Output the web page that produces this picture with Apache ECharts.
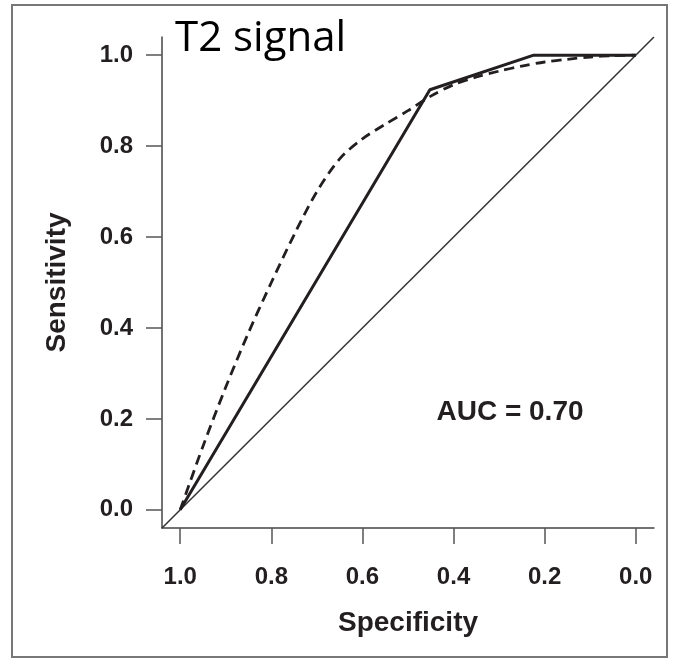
<!DOCTYPE html>
<html>
<head>
<meta charset="utf-8">
<title>T2 signal ROC</title>
<script src="https://cdn.jsdelivr.net/npm/echarts@6/dist/echarts.min.js"></script>
<style>
    html, body { margin: 0; padding: 0; background: #fff; }
    #main { width: 677px; height: 660px; }
</style>
</head>
<body>
<div id="main"></div>
<script>
    // tick positions shared by both axes
    var tickValues = [0, 0.2, 0.4, 0.6, 0.8, 1.0];

    // empirical ROC curve (solid)
    var empSpec = [1.0, 0.452, 0.224, 0.0];
    var empSens = [0.0, 0.924, 1.0, 1.0];

    // smoothed ROC curve (dashed)
    var fitSpec = [1.0, 0.95, 0.90, 0.85, 0.80, 0.75, 0.70, 0.65, 0.60, 0.55, 0.50, 0.45, 0.40, 0.35, 0.30, 0.25, 0.20, 0.15, 0.10, 0.05, 0.0];
    var fitSens = [0.0, 0.14, 0.27, 0.39, 0.50, 0.605, 0.70, 0.772, 0.816, 0.848, 0.878, 0.91, 0.935, 0.952, 0.965, 0.976, 0.985, 0.991, 0.996, 0.999, 1.0];

    // chance line, runs to the edges of the plot box
    var refSpec = [1.04, -0.04];
    var refSens = [-0.04, 1.04];

    var aucText = 'AUC = 0.70';
    var ink = '#231f20';

    function pairs(xs, ys) {
        var out = [];
        for (var i = 0; i < xs.length; i++) out.push([xs[i], ys[i]]);
        return out;
    }

    var chart = echarts.init(document.getElementById('main'));
    var option = {
        animation: false,
        grid: { left: 162, right: 23, top: 37, bottom: 132 },
        xAxis: {
            type: 'value',
            inverse: true,
            min: -0.04,
            max: 1.04,
            name: 'Specificity',
            nameLocation: 'middle',
            nameGap: 81,
            nameTextStyle: { fontFamily: 'Liberation Sans', fontWeight: 'bold', fontSize: 28, color: ink },
            axisLine: { show: true, onZero: false, lineStyle: { color: '#444', width: 1.5 } },
            axisTick: { show: true, customValues: tickValues, length: 16, lineStyle: { color: '#555', width: 1.5 } },
            axisLabel: {
                customValues: tickValues,
                margin: 37,
                fontFamily: 'Liberation Sans', fontWeight: 'bold', fontSize: 24, color: ink,
                formatter: function (v) { return v.toFixed(1); }
            },
            splitLine: { show: false }
        },
        yAxis: {
            type: 'value',
            min: -0.04,
            max: 1.04,
            name: 'Sensitivity',
            nameLocation: 'middle',
            nameGap: 91,
            nameTextStyle: { fontFamily: 'Liberation Sans', fontWeight: 'bold', fontSize: 28, color: ink },
            axisLine: { show: true, onZero: false, lineStyle: { color: '#444', width: 1.5 } },
            axisTick: { show: true, customValues: tickValues, length: 16, lineStyle: { color: '#555', width: 1.5 } },
            axisLabel: {
                customValues: tickValues,
                margin: 29,
                fontFamily: 'Liberation Sans', fontWeight: 'bold', fontSize: 24, color: ink,
                formatter: function (v) { return v.toFixed(1); }
            },
            splitLine: { show: false }
        },
        series: [
            {
                name: 'chance', type: 'line', data: pairs(refSpec, refSens),
                symbol: 'none', lineStyle: { color: '#333', width: 1.5 }
            },
            {
                name: 'fitted', type: 'line', data: pairs(fitSpec, fitSens),
                symbol: 'none', smooth: 0.3,
                lineStyle: { color: ink, width: 2.8, type: [10, 6] }
            },
            {
                name: 'empirical', type: 'line', data: pairs(empSpec, empSens),
                symbol: 'none', lineStyle: { color: ink, width: 3 }
            }
        ],
        graphic: [
            {
                type: 'rect', silent: true,
                shape: { x: 12, y: 5, width: 655, height: 652 },
                style: { fill: 'none', stroke: '#777', lineWidth: 2 }
            },
            {
                type: 'text', left: 175, top: 18,
                style: { text: 'T2 signal', font: '42px "Open Sans"', fill: '#000' }
            },
            {
                type: 'text', x: 510, y: 412,
                style: { text: aucText, align: 'center', verticalAlign: 'middle', font: 'bold 28px "Liberation Sans"', fill: ink }
            }
        ]
    };
    chart.setOption(option);
</script>
</body>
</html>
